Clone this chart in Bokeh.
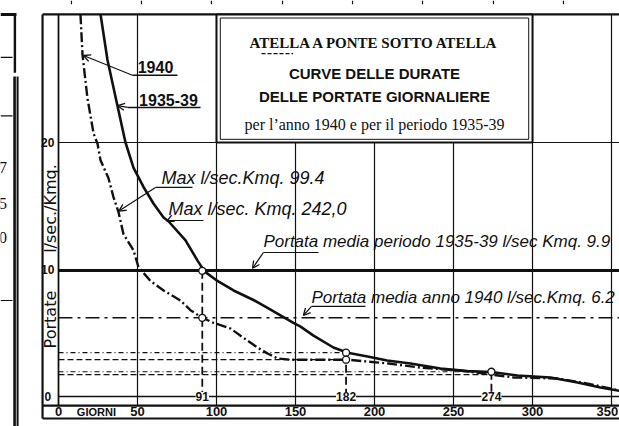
from bokeh.plotting import figure
from bokeh.models import Range1d, Arrow, OpenHead
from bokeh.core.properties import value
from bokeh.embed import file_html
from bokeh.resources import INLINE
import math

# ---------------- data ----------------
giorni_1935_39 = [26.6, 31.0, 37.3, 42.4, 47.5, 53.8, 60.1, 66.5, 69.6, 80.4, 88.0, 92.4,
                  100.6, 110.8, 123.4, 132.0, 148.7, 153.2, 161.4, 174.0, 183.0, 195.6,
                  208.0, 222.8, 241.8, 258.9, 274.0, 290.5, 311.4, 328.5, 343.0, 355.0]
portate_1935_39 = [30.1, 26.5, 22.9, 20.0, 18.0, 16.5, 15.2, 14.1, 13.8, 12.3, 10.7, 9.85,
                   9.1, 8.35, 7.6, 7.0, 5.8, 5.5, 4.8, 3.86, 3.45, 3.15,
                   2.83, 2.6, 2.2, 2.0, 1.93, 1.65, 1.5, 1.1, 0.71, 0.45]

giorni_1940 = [13.9, 15.2, 18.3, 22.2, 24.7, 26.6, 31.6, 34.8, 38.0, 41.1, 47.5, 50.6,
               58.2, 66.5, 77.2, 83.5, 91.0, 98.1, 108.9, 119.6, 125.9, 132.3, 138.6,
               146.8, 183.0, 209.0, 229.0, 254.0, 274.0, 288.0, 316.0, 335.0, 355.0]
portate_1940 = [30.1, 26.9, 23.5, 20.7, 19.9, 18.6, 17.2, 15.7, 14.5, 12.8, 11.5, 10.2,
                9.1, 8.35, 7.56, 6.8, 6.2, 5.8, 5.35, 4.4, 3.86, 3.39, 3.0,
                2.9, 2.9, 2.6, 2.28, 2.05, 1.73, 1.5, 1.42, 1.02, 0.47]

media_1935_39 = 9.9
media_1940 = 6.2
giorni_rif = [91, 182, 274]
rif_1935_39 = [9.9, 3.45, 1.95]
rif_1940 = [6.2, 2.9, 1.73]

x_ticks = [50, 100, 150, 200, 250, 300, 350]
x_tick_labels = ["50", "100", "150", "200", "250", "300", "350"]
y_ticks = [0, 10, 20]
y_tick_labels = ["0", "10", "20"]

# ---------------- layout constants ----------------
X0, X1 = -36.71, 355.06
Y0, Y1 = -2.36, 31.18
FRAME_L, FRAME_T, FRAME_B, BAND_T = -10.1, 30.08, -1.73, -0.71
X_END = X1 + 1

p = figure(width=619, height=426, x_range=Range1d(X0, X1), y_range=Range1d(Y0, Y1),
           output_backend="svg", toolbar_location=None,
           x_axis_type=None, y_axis_type=None, min_border=0)
p.grid.visible = False
p.outline_line_color = None
p.background_fill_color = "white"
p.border_fill_color = "white"

BLACK = "#111111"

SANS = value("Liberation Sans")
SERIF = value("Liberation Serif")
DSANS = value("DejaVu Sans")

# fragment of the neighbouring page (left) and stray ticks (top)
p.segment(x0=[-27.8, -25.9, -27.6], y0=[25.2, 25.2, FRAME_T], x1=[-27.8, -25.9, -27.6], y1=[Y0, Y0, 25.5],
          line_color=BLACK, line_width=[2.6, 2.0, 2.4])
p.segment(x0=[X0] * 4, y0=[FRAME_T, 26.7, 22.1, 7.56], x1=[-26.6, -29.1, -29.1, -29.1],
          y1=[FRAME_T, 26.7, 22.1, 7.56], line_color=BLACK, line_width=[3, 1.2, 1.2, 1.2])
p.text(x=[-35.2] * 3, y=[18.03, 15.2, 12.52], text=["7", "5", "0"], text_align="center",
       text_baseline="middle", text_font=SERIF, text_font_size="16px", text_color=BLACK)
top_ticks = [8.2, 52.5, 96.8, 141.8, 186.1, 230.4, 275.3, 319.6]
p.segment(x0=top_ticks, y0=[Y1] * 8, x1=top_ticks, y1=[30.88] * 8, line_color=BLACK, line_width=1.2)

# frame
p.segment(x0=[FRAME_L, FRAME_L, FRAME_L, FRAME_L], y0=[FRAME_B, FRAME_T, FRAME_B, BAND_T],
          x1=[FRAME_L, X_END, X_END, X_END], y1=[FRAME_T, FRAME_T, FRAME_B, BAND_T],
          line_color=BLACK, line_width=2.2)
# y axis at day 0
p.segment(x0=[0], y0=[BAND_T], x1=[0], y1=[FRAME_T], line_color=BLACK, line_width=1.8)
# vertical grid
p.segment(x0=x_ticks, y0=[BAND_T] * len(x_ticks), x1=x_ticks, y1=[FRAME_T] * len(x_ticks),
          line_color=BLACK, line_width=1.2)
# horizontal grid
p.segment(x0=[0, 0], y0=[20, 10], x1=[X_END, X_END], y1=[20, 10], line_color=BLACK, line_width=1.2)
p.segment(x0=[0], y0=[0], x1=[X_END], y1=[0], line_color=BLACK, line_width=1.5)

# title box
p.quad(left=[100], right=[300], bottom=[20], top=[FRAME_T], fill_color="white",
       line_color=BLACK, line_width=2)
p.quad(left=[102.4], right=[297.6], bottom=[20.25], top=[29.8], fill_color=None,
       line_color=BLACK, line_width=1)

# mean lines
p.segment(x0=[0], y0=[media_1935_39], x1=[X_END], y1=[media_1935_39], line_color=BLACK, line_width=2.6)
p.segment(x0=[0], y0=[media_1940], x1=[X_END], y1=[media_1940], line_color=BLACK,
          line_width=1.6, line_dash="14 5 3 5")

# reference horizontal lines
p.segment(x0=[0] * 2, y0=rif_1935_39[1:], x1=giorni_rif[1:], y1=rif_1935_39[1:],
          line_color=BLACK, line_width=1.2, line_dash="5 3 1 3")
p.segment(x0=[0] * 2, y0=rif_1940[1:], x1=giorni_rif[1:], y1=rif_1940[1:],
          line_color=BLACK, line_width=1.2, line_dash="6 3")
# reference vertical lines
p.segment(x0=giorni_rif, y0=rif_1935_39, x1=giorni_rif, y1=[0] * 3,
          line_color=BLACK, line_width=1.8, line_dash="8 4")

# curves
p.line(giorni_1935_39, portate_1935_39, line_color=BLACK, line_width=2.6)
p.line(giorni_1940, portate_1940, line_color=BLACK, line_width=2.4, line_dash="10 3 2 3")

# circles
p.scatter(giorni_rif + giorni_rif[:2], rif_1935_39 + rif_1940[:2], size=7,
          fill_color="white", line_color=BLACK, line_width=1.3)

# tick labels on the zero line
p.text(x=giorni_rif, y=[0] * 3, text=[str(g) for g in giorni_rif], text_align="center",
       text_baseline="middle", text_font=SANS, text_font_style="bold", text_font_size="12px",
       text_color=BLACK, background_fill_color="white")

# bottom band labels (the last one is kept inside the page edge)
p.text(x=[0] + x_ticks[:-1], y=[-1.2] * len(x_ticks), text=["0"] + x_tick_labels[:-1],
       text_align="center", text_baseline="middle", text_font=SANS, text_font_style="bold",
       text_font_size="13px", text_color=BLACK)
p.text(x=[X1 - 0.8], y=[-1.2], text=[x_tick_labels[-1]],
       text_align="right", text_baseline="middle", text_font=SANS, text_font_style="bold",
       text_font_size="13px", text_color=BLACK)
p.text(x=[24], y=[-1.2], text=["GIORNI"], text_align="center", text_baseline="middle",
       text_font=SANS, text_font_style="bold", text_font_size="11px", text_color=BLACK)

# y labels
p.text(x=[-6.8] * 3, y=y_ticks, text=y_tick_labels, text_align="center", text_baseline="middle",
       text_font=SANS, text_font_style="bold", text_font_size="12px", text_color=BLACK)
p.text(x=[-5.0, -5.0], y=[6.06, 14.8], text=["Portate", "l/sec./Kmq."], angle=math.pi / 2,
       text_align="center", text_baseline="middle", text_font=DSANS, text_font_size="16px",
       text_color=BLACK)

# title texts
p.text(x=[200], y=[27.87], text=["ATELLA A PONTE SOTTO ATELLA"], text_align="center",
       text_baseline="middle", text_font=SERIF, text_font_style="bold", text_font_size="15px",
       text_color=BLACK)
p.segment(x0=[128.5], y0=[27.0], x1=[148.5], y1=[27.0], line_color=BLACK, line_width=1.2,
          line_dash="4 2")
p.text(x=[200, 200], y=[25.43, 23.62], text=["CURVE DELLE DURATE", "DELLE PORTATE GIORNALIERE"],
       text_align="center", text_baseline="middle", text_font=SANS, text_font_style="bold",
       text_font_size="15px", text_color=BLACK)
p.text(x=[200], y=[21.42], text=["per l\u2019anno 1940 e per il periodo 1935-39"], text_align="center",
       text_baseline="middle", text_font=SERIF, text_font_size="16px", text_color=BLACK)

# series labels
p.text(x=[61.4, 69.6], y=[25.95, 23.35], text=["1940", "1935-39"], text_align="center",
       text_baseline="middle", text_font=SANS, text_font_style="bold", text_font_size="16px",
       text_color=BLACK)
p.segment(x0=[46.8, 43.7], y0=[25.3, 22.76], x1=[75.3, 89.9], y1=[25.3, 22.76],
          line_color=BLACK, line_width=1.4)

# italic annotations
p.text(x=[65.2, 69.6], y=[17.24, 14.8],
       text=["Max  l/sec.Kmq.  99.4", "Max  l/sec.  Kmq.  242,0"],
       text_align="left", text_baseline="middle",
       text_font=SANS, text_font_style="italic", text_font_size="18px", text_color=BLACK)
p.text(x=[129.7, 160.1], y=[12.2, 7.8],
       text=["Portata  media periodo 1935-39 l/sec Kmq. 9.9",
             "Portata media anno 1940 l/sec.Kmq. 6.2"],
       text_align="left", text_baseline="middle",
       text_font=SANS, text_font_style="italic", text_font_size="17px", text_color=BLACK)
p.segment(x0=[61.4, 69.6, 129.7, 160.1], y0=[16.46, 13.86, 11.34, 7.09],
          x1=[84.8, 91.8, 164.6, 194.3], y1=[16.46, 13.86, 11.34, 7.09],
          line_color=BLACK, line_width=1.2)

arrows = [
    (46.8, 25.3, 15.8, 26.85),
    (43.7, 22.76, 37.4, 22.9),
    (61.4, 16.46, 38.2, 14.6),
    (69.6, 13.86, 68.6, 13.8),
    (129.7, 11.34, 122.8, 10.1),
    (160.1, 7.09, 155.0, 6.38),
]
for xs, ys, xe, ye in arrows:
    p.add_layout(Arrow(end=OpenHead(size=7, line_width=1.3, line_color=BLACK),
                       x_start=xs, y_start=ys, x_end=xe, y_end=ye,
                       line_color=BLACK, line_width=1.2))

open("out.html", "w").write(file_html(p, INLINE))
